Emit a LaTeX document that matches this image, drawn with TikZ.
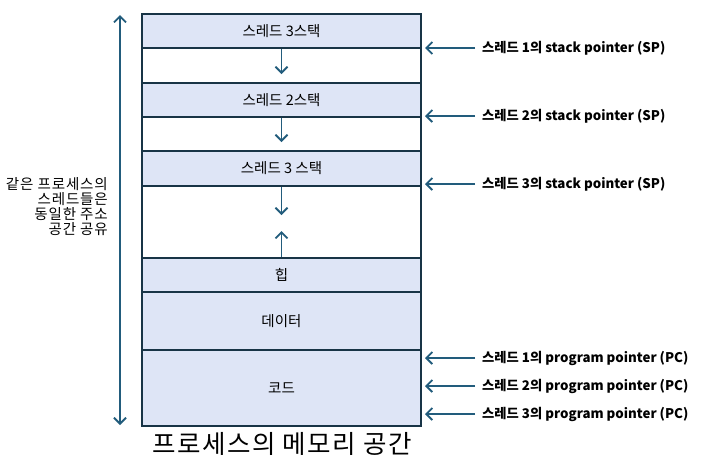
\documentclass[tikz,border=0pt]{standalone}
\usepackage{fontspec}
\setmainfont{Noto Sans CJK KR}
\usetikzlibrary{arrows.meta}
\definecolor{boxfill}{RGB}{222,229,246}
\definecolor{boxline}{RGB}{24,52,70}
\definecolor{arrcol}{RGB}{34,92,124}
\tikzset{
  x=1pt,y=-1pt,
  seg/.style={draw=boxline,line width=1.8pt,minimum width=279pt,inner sep=0pt,font=\fontsize{14.5}{16}\selectfont},
  fillseg/.style={seg,fill=boxfill},
  whiteseg/.style={seg,fill=white},
  arr/.style={draw=arrcol,line width=1.8pt,-{Straight Barb[length=6pt,width=12pt]}},
  lbl/.style={anchor=west,inner sep=0pt,font=\fontsize{13.3}{15}\selectfont\bfseries},
}
\begin{document}
\begin{tikzpicture}
\useasboundingbox (0,0) rectangle (702,472);
\fill[white] (0,0) rectangle (702,472);
% segments
\node[whiteseg,minimum height=35pt] (w1) at (281.5,65.5) {};
\node[whiteseg,minimum height=34pt] (w2) at (281.5,134) {};
\node[whiteseg,minimum height=72pt] (w3) at (281.5,222) {};
\node[fillseg,minimum height=34pt] (r1) at (281.5,31) {스레드 3스택};
\node[fillseg,minimum height=34pt] (r2) at (281.5,100) {스레드 2스택};
\node[fillseg,minimum height=35pt] (r3) at (281.5,168.5) {스레드 3 스택};
\node[fillseg,minimum height=34pt] (heap) at (281.5,275) {힙};
\node[fillseg,minimum height=58pt] (data) at (281.5,321) {데이터};
\node[fillseg,minimum height=76pt] (code) at (281.5,388) {코드};
% inner arrows
\coordinate (a1) at (281.5,74);
\coordinate (a2) at (281.5,142);
\coordinate (a3) at (281.5,215);
\coordinate (a4) at (281.5,231);
\draw[arr] (r1.south) -- (a1);
\draw[arr] (r2.south) -- (a2);
\draw[arr] (r3.south) -- (a3);
\draw[arr] (heap.north) -- (a4);
% right labels
\node[lbl] (sp1) at (482,48) {스레드 1의 stack pointer (SP)};
\node[lbl] (sp2) at (482,116) {스레드 2의 stack pointer (SP)};
\node[lbl] (sp3) at (482,184) {스레드 3의 stack pointer (SP)};
\node[lbl] (pc1) at (482,358) {스레드 1의 program pointer (PC)};
\node[lbl] (pc2) at (482,386) {스레드 2의 program pointer (PC)};
\node[lbl] (pc3) at (482,414) {스레드 3의 program pointer (PC)};
\foreach \n in {sp1,sp2,sp3,pc1,pc2,pc3}{
  \coordinate (\n s) at ([xshift=-7pt]\n.west);
  \coordinate (\n e) at (425,0 |- \n.west);
  \draw[arr] (\n s) -- (\n e);
}
% left
\coordinate (lt) at (120,15);
\coordinate (lb) at (120,425);
\draw[arr,{Straight Barb[length=6pt,width=12pt]}-{Straight Barb[length=6pt,width=12pt]}] (lt) -- (lb);
\node[anchor=east,align=right,inner sep=0pt,font=\fontsize{14.5}{15}\selectfont\addfontfeatures{LetterSpace=6}] (ltext) at (108,206.5) {같은 프로세스의\\스레드들은\\동일한 주소\\공간 공유};
% title
\node[font=\fontsize{25.5}{28}\selectfont\addfontfeatures{LetterSpace=6}, inner sep=0pt] (title) at (282,444) {프로세스의 메모리 공간};
\end{tikzpicture}
\end{document}
